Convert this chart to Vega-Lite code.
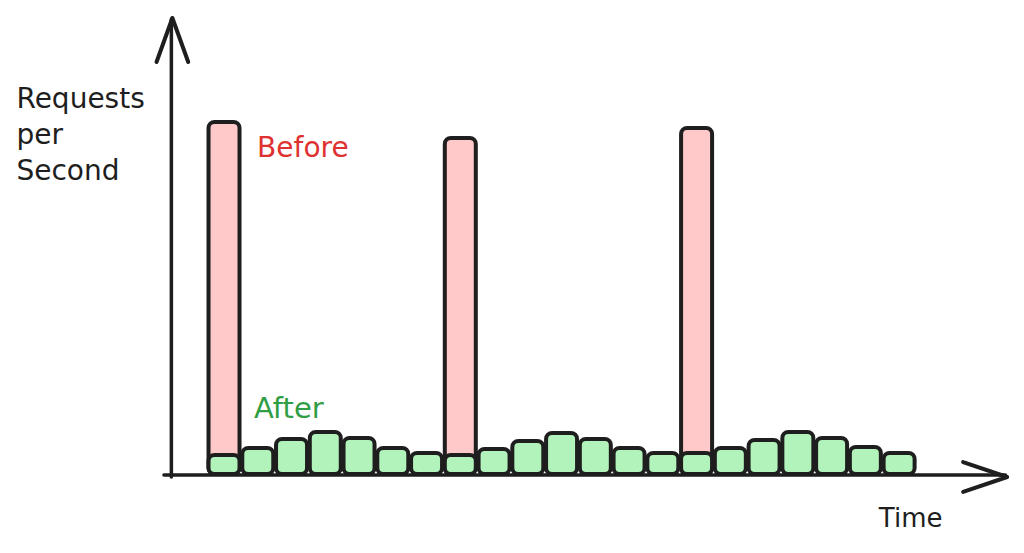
{
  "$schema": "https://vega.github.io/schema/vega-lite/v6.json",
  "width": 1024,
  "height": 553,
  "autosize": {"type": "fit", "contains": "padding"},
  "padding": 0,
  "background": "white",
  "config": {"view": {"stroke": null}, "text": {"font": "DejaVu Sans"}},
  "datasets": {
    "rps": [
      {"slot": 0, "period": "Before", "rps": 352},
      {"slot": 7, "period": "Before", "rps": 336},
      {"slot": 14, "period": "Before", "rps": 346},
      {"slot": 0, "period": "After", "rps": 19},
      {"slot": 1, "period": "After", "rps": 26},
      {"slot": 2, "period": "After", "rps": 35},
      {"slot": 3, "period": "After", "rps": 42},
      {"slot": 4, "period": "After", "rps": 36},
      {"slot": 5, "period": "After", "rps": 26},
      {"slot": 6, "period": "After", "rps": 21},
      {"slot": 7, "period": "After", "rps": 19},
      {"slot": 8, "period": "After", "rps": 25},
      {"slot": 9, "period": "After", "rps": 33},
      {"slot": 10, "period": "After", "rps": 41},
      {"slot": 11, "period": "After", "rps": 35},
      {"slot": 12, "period": "After", "rps": 26},
      {"slot": 13, "period": "After", "rps": 21},
      {"slot": 14, "period": "After", "rps": 21},
      {"slot": 15, "period": "After", "rps": 26},
      {"slot": 16, "period": "After", "rps": 34},
      {"slot": 17, "period": "After", "rps": 42},
      {"slot": 18, "period": "After", "rps": 36},
      {"slot": 19, "period": "After", "rps": 27},
      {"slot": 20, "period": "After", "rps": 21}
    ],
    "one": [{}]
  },
  "encoding": {
    "x": {"type": "quantitative", "scale": {"domain": [-6.637, 23.70], "nice": false, "zero": false, "padding": 0}, "axis": null},
    "y": {"type": "quantitative", "scale": {"domain": [-79, 474], "nice": false, "zero": false, "padding": 0}, "axis": null}
  },
  "layer": [
    {
      "data": {"name": "rps"},
      "mark": {"type": "bar", "size": 31, "cornerRadius": 6, "stroke": "#1e1e1e", "strokeWidth": 4, "strokeJoin": "round"},
      "encoding": {
        "x": {"field": "slot", "type": "quantitative", "scale": {"domain": [-6.637, 23.70], "nice": false, "zero": false, "padding": 0}, "axis": null},
        "y": {"field": "rps", "type": "quantitative", "stack": null, "scale": {"domain": [-79, 474], "nice": false, "zero": false, "padding": 0}, "axis": null},
        "color": {"field": "period", "type": "nominal", "scale": {"domain": ["Before", "After"], "range": ["#ffc9c9", "#b2f2bb"]}, "legend": null}
      }
    },
    {
      "data": {"name": "one"},
      "mark": {"type": "rule", "stroke": "#1e1e1e", "strokeWidth": 3.5, "strokeCap": "round"},
      "encoding": {
        "x": {"datum": -1.78, "type": "quantitative"},
        "x2": {"datum": 23.15},
        "y": {"datum": -1, "type": "quantitative"}
      }
    },
    {
      "data": {"name": "one"},
      "mark": {"type": "rule", "stroke": "#1e1e1e", "strokeWidth": 3.5, "strokeCap": "round"},
      "encoding": {
        "x": {"datum": -1.56, "type": "quantitative"},
        "y": {"datum": -3, "type": "quantitative"},
        "y2": {"datum": 455}
      }
    },
    {
      "data": {"name": "one"},
      "mark": {"type": "point", "shape": "M-0.36,1L0,0L0.36,1", "filled": false, "size": 7744, "stroke": "#1e1e1e", "strokeWidth": 4, "strokeCap": "round", "strokeJoin": "round", "opacity": 1},
      "encoding": {
        "x": {"datum": -1.53, "type": "quantitative"},
        "y": {"datum": 456, "type": "quantitative"}
      }
    },
    {
      "data": {"name": "one"},
      "mark": {"type": "point", "shape": "M-1,-0.34L0,0L-1,0.34", "filled": false, "size": 7744, "stroke": "#1e1e1e", "strokeWidth": 4, "strokeCap": "round", "strokeJoin": "round", "opacity": 1},
      "encoding": {
        "x": {"datum": 23.2, "type": "quantitative"},
        "y": {"datum": -3, "type": "quantitative"}
      }
    },
    {
      "data": {"name": "one"},
      "mark": {"type": "text", "align": "left", "baseline": "alphabetic", "fontSize": 28, "lineBreak": "\n", "lineHeight": 36, "color": "#1e1e1e"},
      "encoding": {
        "x": {"datum": -6.15, "type": "quantitative"},
        "y": {"datum": 366, "type": "quantitative"},
        "text": {"value": "Requests\nper\nSecond"}
      }
    },
    {
      "data": {"name": "one"},
      "mark": {"type": "text", "align": "left", "baseline": "alphabetic", "fontSize": 28, "color": "#e03131"},
      "encoding": {
        "x": {"datum": 0.98, "type": "quantitative"},
        "y": {"datum": 317, "type": "quantitative"},
        "text": {"value": "Before"}
      }
    },
    {
      "data": {"name": "one"},
      "mark": {"type": "text", "align": "left", "baseline": "alphabetic", "fontSize": 29, "color": "#2f9e44"},
      "encoding": {
        "x": {"datum": 0.89, "type": "quantitative"},
        "y": {"datum": 56, "type": "quantitative"},
        "text": {"value": "After"}
      }
    },
    {
      "data": {"name": "one"},
      "mark": {"type": "text", "align": "left", "baseline": "alphabetic", "fontSize": 26, "color": "#1e1e1e"},
      "encoding": {
        "x": {"datum": 19.4, "type": "quantitative"},
        "y": {"datum": -53, "type": "quantitative"},
        "text": {"value": "Time"}
      }
    }
  ]
}
